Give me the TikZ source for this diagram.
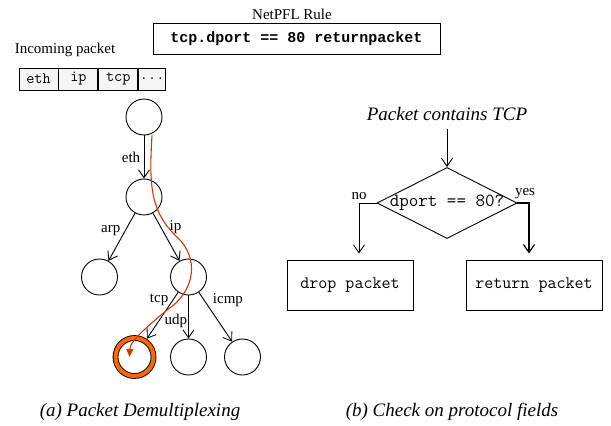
\documentclass[tikz,border=0pt]{standalone}
\usepackage{fontspec}
\setmainfont{Liberation Serif}
\newfontfamily\rulemono{Liberation Mono}
\usetikzlibrary{positioning,shapes.geometric,arrows.meta}
\definecolor{hitorange}{RGB}{255,102,0}
\definecolor{pathred}{RGB}{206,56,0}
\tikzset{
	state/.style={circle, draw, minimum size=36pt, inner sep=0pt},
	hit/.style={circle, draw, double=hitorange, double distance=4pt, minimum size=38pt, inner sep=0pt, outer sep=3pt},
	cell/.style={draw, fill=gray!8, minimum height=22pt, minimum width=39pt, inner sep=0pt, font=\ttfamily\fontsize{15.8}{18}\selectfont},
	actbox/.style={draw, minimum height=50pt, inner sep=0pt, font=\ttfamily\fontsize{17.5}{20}\selectfont},
	decision/.style={diamond, draw, minimum width=140pt, minimum height=71pt, inner sep=0pt, font=\ttfamily\fontsize{18.5}{20}\selectfont},
	arr/.style={-{Straight Barb[length=8pt,width=11pt]}},
	itlabel/.style={font=\itshape\fontsize{19}{22}\selectfont}
}
\begin{document}
\begin{tikzpicture}[x=1pt, y=1pt, line width=0.9pt, font=\fontsize{15}{18}\selectfont,
		level distance=80pt,
		level 2/.style={sibling distance=89pt},
		level 3/.style={sibling distance=54pt},
		edge from parent/.style={draw, arr}]
	\useasboundingbox (0,0) rectangle (611,-426);
	\node (title) at (292,-14) {NetPFL Rule};
	\node[draw, minimum width=287pt, minimum height=31pt, font=\rulemono\bfseries\fontsize{15}{18}\selectfont] (rule) at (296.5,-38.5) {tcp.dport == 80 returnpacket};
	\node (incoming) at (65,-50) {Incoming packet};
	\node[cell] (ceth) at (38.5,-79) {eth};
	\node[cell, right=0pt of ceth] (cip) {ip};
	\node[cell, right=0pt of cip] (ctcp) {tcp};
	\node[cell, minimum width=27pt, right=0pt of ctcp] (cmore) {...};
	\node[state] (nroot) at (144,-117) {}
	child{node[state] (neth) {}
		child{node[state] (narp) {}
			edge from parent node[above left, inner sep=1pt] {arp}
		}
		child{node[state] (nip) {}
			child{node[hit] (ntcp) {}
				edge from parent node[above left, inner sep=0pt, pos=.3] {tcp}
			}
			child{node[state] (nudp) {}
				edge from parent node[left, inner sep=1pt, pos=.6] {udp}
			}
			child{node[state] (nicmp) {}
				edge from parent node[above right, inner sep=2pt, pos=.35] {icmp}
			}
			edge from parent node[above right, inner sep=3pt] {ip}
		}
		edge from parent node[left] {eth}
	};
	\draw[pathred, line width=1.1pt, -{Triangle[length=8pt,width=7pt]}] ([xshift=8pt]nroot.south) .. controls (149,-185) and (150,-212) .. (178,-238) .. controls (198,-257) and (197,-290) .. (167,-310) .. controls (143,-330) and (130,-342) .. ([xshift=-5pt]ntcp.center);
	\node[itlabel] (cond) at (447,-114) {Packet contains TCP};
	\node[decision] (dec) at (447,-203) {\makebox[0pt]{dport == 80?}};
	\node[actbox, minimum width=126pt] (drop) at (350,-285) {drop packet};
	\node[actbox, minimum width=136pt] (ret) at (534,-285) {return packet};
	\draw[arr, shorten <=5pt] (cond) -- (dec);
	\draw[arr] (dec.west) -| node[above, pos=.5] {no} ([shift={(9pt,6pt)}]drop.north);
	\draw[arr, line width=1.2pt] (dec.east) -| node[above, pos=.5, xshift=-4pt] {yes} ([shift={(-5pt,6pt)}]ret.north);
	\node[itlabel] (capa) at (140,-412) {(a) Packet Demultiplexing};
	\node[itlabel] (capb) at (452,-412) {(b) Check on protocol fields};
\end{tikzpicture}
\end{document}
